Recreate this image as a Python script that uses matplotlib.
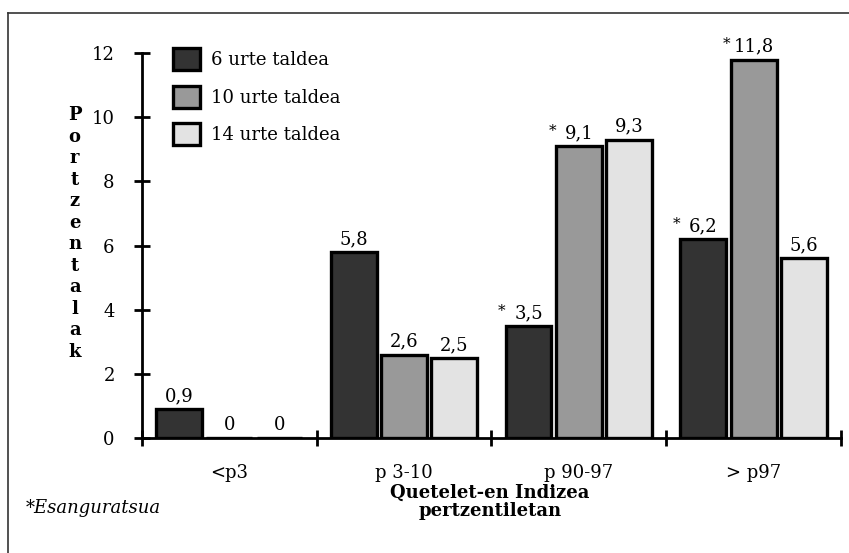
import matplotlib.pyplot as plt
import numpy as np

plt.rcParams['font.family'] = 'DejaVu Serif'

categories = ['<p3', 'p 3-10', 'p 90-97', '> p97']
series_names = ['6 urte taldea', '10 urte taldea', '14 urte taldea']
group_6 = [0.9, 5.8, 3.5, 6.2]
group_10 = [0.0, 2.6, 9.1, 11.8]
group_14 = [0.0, 2.5, 9.3, 5.6]
signif_6 = [False, False, True, True]
signif_10 = [False, False, True, True]
signif_14 = [False, False, False, False]
value_labels = lambda v: ('%g' % v).replace('.', ',')

colors = ['#333333', '#999999', '#e3e3e3']
series = [group_6, group_10, group_14]
signif = [signif_6, signif_10, signif_14]

fs = 13
fig = plt.figure(figsize=(8.49, 5.53), dpi=100)
ax = fig.add_axes([0.167, 0.208, 0.8236, 0.696])

x = np.arange(len(categories)) + 0.5
width = 0.262
step = 0.288
for i, (vals, col) in enumerate(zip(series, colors)):
    pos = x + (i - 1) * step
    ax.bar(pos, vals, width, color=col, edgecolor='black', linewidth=2.4,
           label=series_names[i], zorder=3)
    for p, v, s in zip(pos, vals, signif[i]):
        ax.text(p, v + 0.12, value_labels(v), ha='center', va='bottom',
                fontsize=fs)
        if s:
            ax.text(p - width * 0.5, v + 0.25, '*', ha='right', va='bottom',
                    fontsize=11)

ax.set_xlim(0, 4)
ax.set_ylim(0, 12)
ax.set_yticks(range(0, 13, 2))
ax.set_xticks(range(0, 5))
ax.set_xticklabels([])
ax.set_xticks(x, minor=True)
ax.set_xticklabels(categories, minor=True, fontsize=fs)
ax.tick_params(axis='x', which='minor', length=0, pad=19)
ax.tick_params(axis='both', which='major', direction='inout', length=11,
               width=2, labelsize=fs)
ax.tick_params(axis='y', pad=14)
for side in ['top', 'right']:
    ax.spines[side].set_visible(False)
for side in ['left', 'bottom']:
    ax.spines[side].set_linewidth(2)
ax.patch.set_alpha(0)

# stacked vertical axis title
fig.text(0.088, 0.808, '\n'.join('Portzentalak'), ha='center', va='top',
         fontsize=fs, fontweight='bold', linespacing=1.25)

fig.text(0.577, 0.092, 'Quetelet-en Indizea\npertzentiletan', ha='center',
         va='center', fontsize=fs, fontweight='bold', linespacing=1.0)
fig.text(0.03, 0.081, '*Esanguratsua', ha='left', va='center',
         fontsize=13, style='italic')

leg = ax.legend(loc='upper left', bbox_to_anchor=(0.021, 1.055),
                frameon=False, fontsize=fs, handlelength=1.5,
                handleheight=1.5, labelspacing=0.85, handletextpad=0.6)

# outer frame: left and top edges
fig.add_artist(plt.Line2D([0.0094, 0.0094], [0, 0.976], color='#333333',
                          linewidth=1.2))
fig.add_artist(plt.Line2D([0.0094, 1], [0.976, 0.976], color='#333333',
                          linewidth=1.2))

fig.savefig('out.png', dpi=100)
